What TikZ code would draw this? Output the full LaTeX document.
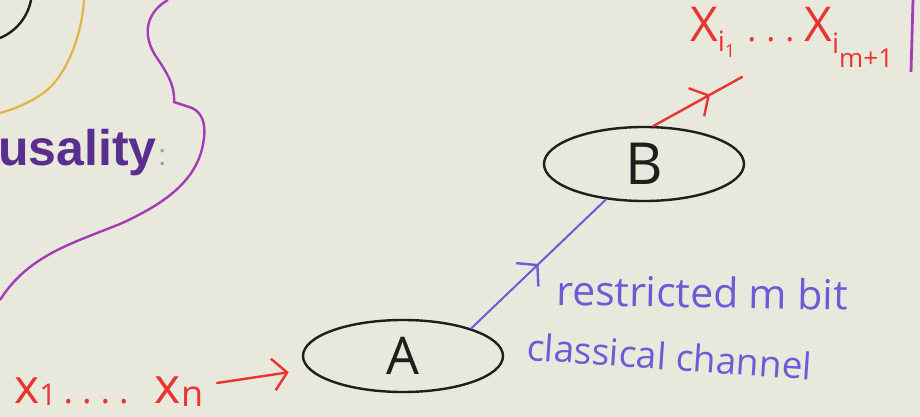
\documentclass[tikz,border=0pt]{standalone}
\usepackage{fontspec}
\setmainfont{Open Sans}
\newfontfamily\slidefont{Liberation Sans}
\usetikzlibrary{shapes.geometric,decorations.markings,arrows.meta,calc}

\definecolor{board}{HTML}{E9E8DC}
\definecolor{ink}{HTML}{1E1E1E}
\definecolor{marker}{HTML}{E8352F}
\definecolor{chanblue}{HTML}{6A5CD6}
\definecolor{loopviolet}{HTML}{A63BB8}
\definecolor{ringgold}{HTML}{E0B445}
\definecolor{titlepurple}{HTML}{5A2E8E}

\newcommand{\fs}[1]{\fontsize{#1}{#1}\selectfont}

\tikzset{
  blob/.style={ellipse, draw=ink, line width=2.4pt, inner sep=0pt, text=ink},
  redtext/.style={text=marker, inner sep=0pt},
  bluetext/.style={text=chanblue, inner sep=0pt},
  redline/.style={draw=marker, line width=2.4pt, line cap=round},
  blueline/.style={draw=chanblue, line width=2pt, line cap=round},
  barb/.tip={Straight Barb[length=14pt, width=32pt, line width=2.4pt]},
  midbarb/.style={postaction=decorate,
    decoration={markings, mark=at position #1 with {\arrow{barb}}}},
}

\begin{document}
\begin{tikzpicture}[x=1pt, y=-1pt]
  % board
  \fill[board] (0,0) rectangle (920,417);
  \useasboundingbox (0,0) rectangle (920,417);

  % loops running in from the left edge
  \draw[ink, line width=2.4pt] (31,0) .. controls (28,16) and (17,31) .. (0,38);
  \draw[ringgold, line width=2.2pt] (84,0) .. controls (82,35) and (66,78) .. (42,94)
        .. controls (27,104) and (12,110) .. (0,113);
  \draw[loopviolet, line width=2.4pt] (168,0) .. controls (150,10) and (140,30) .. (155,55)
        .. controls (168,74) and (175,86) .. (174,102) -- (192,108)
        .. controls (201,112) and (206,122) .. (204,138)
        .. controls (200,172) and (178,198) .. (120,224)
        .. controls (70,244) and (28,256) .. (0,300);
  \draw[loopviolet, line width=2.8pt] (913,0) -- (911,72);

  % slide heading
  \node[anchor=base west, inner sep=0pt, text=titlepurple,
        font=\slidefont\bfseries\fs{50}] (title) at (-2,165) {usality};
  \node[anchor=base west, inner sep=1pt, text=gray!80,
        font=\slidefont\fs{30}] (colon) at (title.base east) {:};

  % parties
  \node[blob, minimum width=200pt, minimum height=72pt, font=\fs{52}] (A) at (403,356) {A};
  \node[blob, minimum width=200pt, minimum height=74pt, font=\fs{58}] (B) at (644,164) {B};

  % inputs and outputs
  \node[redtext, anchor=base west] (xin) at (14,403)
    {\fs{48}x\raisebox{-2pt}{\fs{30}1}\hspace{7pt}\fs{36}.\hspace{9pt}.\hspace{9pt}.\hspace{9pt}.%
     \hspace{26pt}\fs{50}x\raisebox{-3pt}{\fs{36}n}};
  \node[redtext, anchor=base west] (xout) at (690,42)
    {\fs{48}X\raisebox{-10pt}{\fs{28}i\raisebox{-6pt}{\fs{18}1}}\hspace{12pt}\fs{34}.\hspace{10pt}.\hspace{10pt}.\hspace{10pt}\fs{48}X%
     \raisebox{-12pt}{\fs{28}i\raisebox{-14pt}{\fs{26}m+1}}};

  \coordinate (xstart) at (217,383);
  \coordinate (outend) at (742,77);

  \draw[redline, -barb, shorten >=20pt] (xstart) -- (A.188);
  \draw[redline, midbarb=0.64] (B.76) -- (outend);
  \draw[blueline, midbarb=0.5] (A.22) -- (B.223);

  % channel label
  \node[bluetext, anchor=base west, rotate=-1, font=\fs{41}] (chan1) at (556,305) {restricted m bit};
  \node[bluetext, anchor=base west, rotate=-4, font=\fs{37}] (chan2) at (526,360) {classical channel};
\end{tikzpicture}
\end{document}
